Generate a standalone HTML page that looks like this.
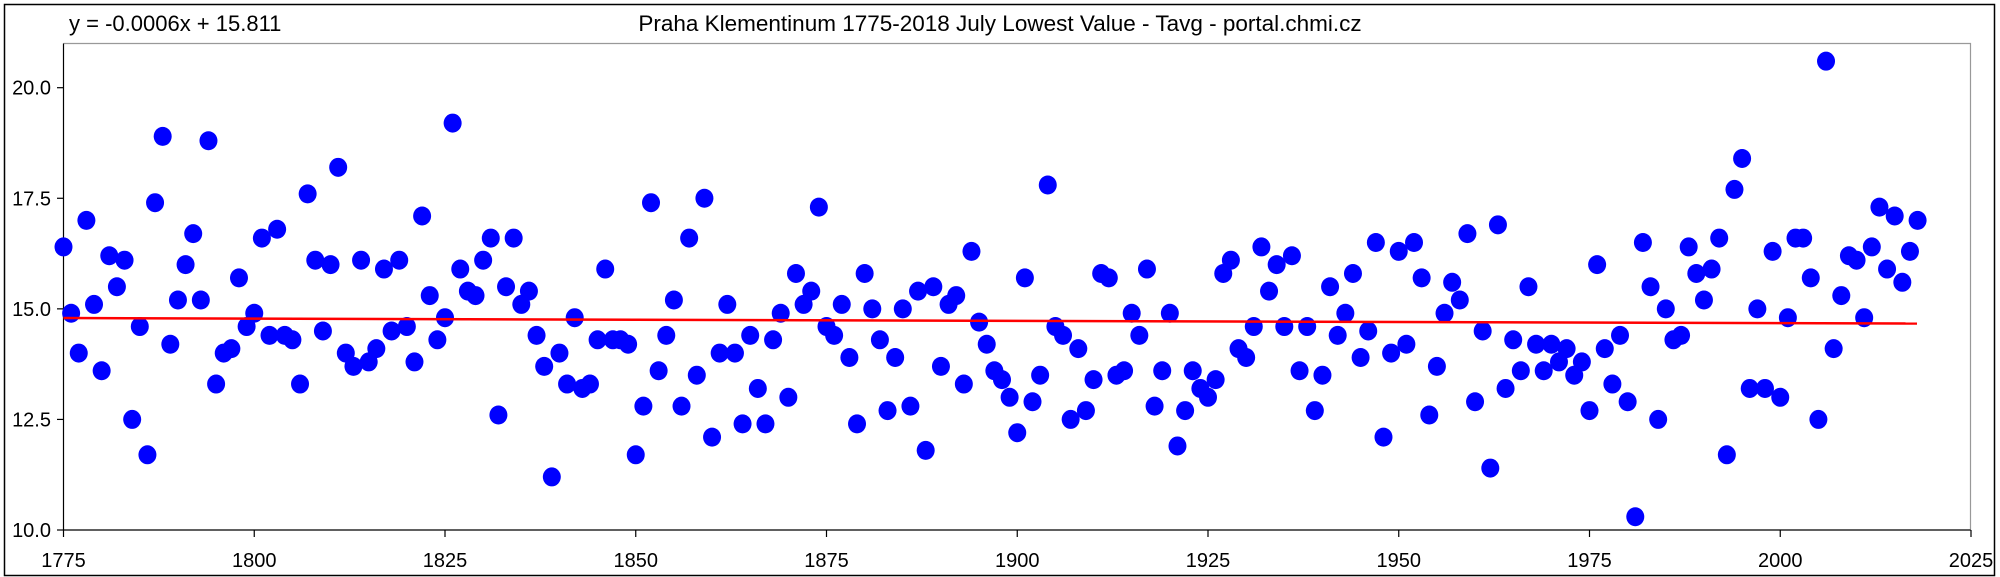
<!DOCTYPE html>
<html><head><meta charset="utf-8"><style>
html,body{margin:0;padding:0;background:#fff;}
svg{display:block;font-family:"Liberation Sans",Arial,sans-serif;}
</style></head><body>
<svg id="c" width="2000" height="577" xmlns="http://www.w3.org/2000/svg">
<rect x="4.5" y="4.5" width="1990" height="571" fill="#fff" stroke="#000" stroke-width="1.5"/>
<text x="69" y="31" font-size="22" fill="#000">y = -0.0006x + 15.811</text>
<text x="1000" y="31" font-size="22.5" fill="#000" text-anchor="middle">Praha Klementinum 1775-2018 July Lowest Value - Tavg - portal.chmi.cz</text>
<polyline points="63.5,43.5 1970.5,43.5 1970.5,530" fill="none" stroke="#999" stroke-width="1.2"/>
<line x1="63.5" y1="43.5" x2="63.5" y2="530" stroke="#000" stroke-width="1.2"/>
<line x1="63.5" y1="530" x2="1970.5" y2="530" stroke="#000" stroke-width="1.2"/>
<g id="ticks" font-size="20" fill="#000"></g>
<g id="pts" fill="#0000ff"></g>
<line x1="63.5" y1="318" x2="1917" y2="323.5" stroke="#ff0000" stroke-width="2.5"/>
</svg>
<script>
var v=[16.4,14.9,14.0,17.0,15.1,13.6,16.2,15.5,16.1,12.5,14.6,11.7,17.4,18.9,14.2,15.2,16.0,16.7,15.2,18.8,13.3,14.0,14.1,15.7,14.6,14.9,16.6,14.4,16.8,14.4,14.3,13.3,17.6,16.1,14.5,16.0,18.2,14.0,13.7,16.1,13.8,14.1,15.9,14.5,16.1,14.6,13.8,17.1,15.3,14.3,14.8,19.2,15.9,15.4,15.3,16.1,16.6,12.6,15.5,16.6,15.1,15.4,14.4,13.7,11.2,14.0,13.3,14.8,13.2,13.3,14.3,15.9,14.3,14.3,14.2,11.7,12.8,17.4,13.6,14.4,15.2,12.8,16.6,13.5,17.5,12.1,14.0,15.1,14.0,12.4,14.4,13.2,12.4,14.3,14.9,13.0,15.8,15.1,15.4,17.3,14.6,14.4,15.1,13.9,12.4,15.8,15.0,14.3,12.7,13.9,15.0,12.8,15.4,11.8,15.5,13.7,15.1,15.3,13.3,16.3,14.7,14.2,13.6,13.4,13.0,12.2,15.7,12.9,13.5,17.8,14.6,14.4,12.5,14.1,12.7,13.4,15.8,15.7,13.5,13.6,14.9,14.4,15.9,12.8,13.6,14.9,11.9,12.7,13.6,13.2,13.0,13.4,15.8,16.1,14.1,13.9,14.6,16.4,15.4,16.0,14.6,16.2,13.6,14.6,12.7,13.5,15.5,14.4,14.9,15.8,13.9,14.5,16.5,12.1,14.0,16.3,14.2,16.5,15.7,12.6,13.7,14.9,15.6,15.2,16.7,12.9,14.5,11.4,16.9,13.2,14.3,13.6,15.5,14.2,13.6,14.2,13.8,14.1,13.5,13.8,12.7,16.0,14.1,13.3,14.4,12.9,10.3,16.5,15.5,12.5,15.0,14.3,14.4,16.4,15.8,15.2,15.9,16.6,11.7,17.7,18.4,13.2,15.0,13.2,16.3,13.0,14.8,16.6,16.6,15.7,12.5,20.6,14.1,15.3,16.2,16.1,14.8,16.4,17.3,15.9,17.1,15.6,16.3,17.0];
var NS="http://www.w3.org/2000/svg";
function X(y){return 63.5+(y-1775)*7.63;}
function Y(t){return 530-(t-10)*44.23;}
var g=document.getElementById('pts');
v.forEach(function(t,i){var e=document.createElementNS(NS,'ellipse');e.setAttribute('cx',X(1775+i));e.setAttribute('cy',Y(t));e.setAttribute('rx',9);e.setAttribute('ry',9.5);g.appendChild(e);});
var tk=document.getElementById('ticks');
function add(tag,a,txt){var e=document.createElementNS(NS,tag);for(var k in a)e.setAttribute(k,a[k]);if(txt)e.textContent=txt;tk.appendChild(e);}
[10,12.5,15,17.5,20].forEach(function(t){var y=Y(t);add('line',{x1:57,y1:y,x2:63.5,y2:y,stroke:'#000','stroke-width':1.2});add('text',{x:51,y:y+7,'text-anchor':'end'},t.toFixed(1));});
for(var yr=1775;yr<=2025;yr+=25){var x=X(yr);add('line',{x1:x,y1:530,x2:x,y2:537,stroke:'#000','stroke-width':1.2});add('text',{x:x,y:567,'text-anchor':'middle'},String(yr));}
</script>
</body></html>
